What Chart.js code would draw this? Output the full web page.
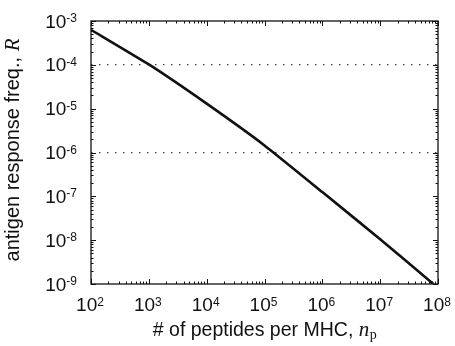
<!DOCTYPE html>
<html>
<head>
<meta charset="utf-8">
<script src="https://cdn.jsdelivr.net/npm/chart.js@4/dist/chart.umd.min.js"></script>
<style>
  body { margin: 0; background: #fff; }
  #wrap { width: 455px; height: 346px; }
</style>
</head>
<body>
<div id="wrap"><canvas id="chart" width="455" height="346"></canvas></div>
<script>
// values
const peptides = [1e2, 1e3, 1e4, 1e5, 1e6, 1e7, 8.3e7];
const responseFreq = [6.3e-4, 1.02e-4, 1.3e-5, 1.45e-6, 1.25e-7, 1.05e-8, 1.0e-9];

const xTickExps = [2, 3, 4, 5, 6, 7, 8];
const yTickExps = [-3, -4, -5, -6, -7, -8, -9];
const yGridLines = [1e-4, 1e-6];

const FONT = '"Liberation Sans", Arial, Helvetica, sans-serif';
const SERIF = '"Liberation Serif", "Times New Roman", serif';
const INK = "#111";

// draws "10" with a raised exponent
function drawPow(ctx, exp, left, baseline) {
  ctx.font = `19px ${FONT}`;
  ctx.fillText("10", left, baseline);
  const wb = ctx.measureText("10").width;
  ctx.font = `12px ${FONT}`;
  ctx.fillText(String(exp), left + wb, baseline - 5.5);
}

function powWidth(ctx, exp) {
  ctx.font = `19px ${FONT}`;
  const wb = ctx.measureText("10").width;
  ctx.font = `12px ${FONT}`;
  return wb + ctx.measureText(String(exp)).width;
}

const overlay = {
  id: "overlay",
  afterDraw(chart) {
    const { ctx, chartArea: a, scales } = chart;
    const x = scales.x, y = scales.y;
    ctx.save();
    ctx.strokeStyle = INK;
    ctx.fillStyle = INK;

    // frame
    ctx.lineWidth = 1.3;
    ctx.strokeRect(a.left, a.top, a.right - a.left, a.bottom - a.top);

    // inward ticks, major and minor, on all sides
    ctx.lineWidth = 1;
    ctx.beginPath();
    for (let e = xTickExps[0]; e <= xTickExps[xTickExps.length - 1]; e++) {
      for (let m = 1; m <= 9; m++) {
        const v = m * Math.pow(10, e);
        if (v > x.max * 1.0001) continue;
        const px = Math.round(x.getPixelForValue(v)) + 0.5;
        const len = m === 1 ? 5 : 2.5;
        ctx.moveTo(px, a.bottom); ctx.lineTo(px, a.bottom - len);
        ctx.moveTo(px, a.top); ctx.lineTo(px, a.top + len);
      }
    }
    for (let e = yTickExps[yTickExps.length - 1]; e <= yTickExps[0]; e++) {
      for (let m = 1; m <= 9; m++) {
        const v = m * Math.pow(10, e);
        if (v > y.max * 1.0001) continue;
        const py = Math.round(y.getPixelForValue(v)) + 0.5;
        const len = m === 1 ? 5 : 2.5;
        ctx.moveTo(a.left, py); ctx.lineTo(a.left + len, py);
        ctx.moveTo(a.right, py); ctx.lineTo(a.right - len, py);
      }
    }
    ctx.stroke();

    // tick labels
    ctx.textAlign = "left";
    ctx.textBaseline = "alphabetic";
    xTickExps.forEach((e) => {
      const px = x.getPixelForValue(Math.pow(10, e));
      const w = powWidth(ctx, e);
      drawPow(ctx, e, px - w / 2 - 1, 311);
    });
    yTickExps.forEach((e) => {
      const py = y.getPixelForValue(Math.pow(10, e));
      const w = powWidth(ctx, e);
      drawPow(ctx, e, 77 - w, py + 6.5);
    });

    // x title: "# of peptides per MHC, n_p"
    const xMain = "# of peptides per MHC, ";
    ctx.font = `19.5px ${FONT}`;
    const w1 = ctx.measureText(xMain).width;
    ctx.font = `italic 21px ${SERIF}`;
    const w2 = ctx.measureText("n").width;
    ctx.font = `14px ${SERIF}`;
    const w3 = ctx.measureText("p").width;
    let sx = (a.left + a.right) / 2 - (w1 + w2 + w3) / 2;
    ctx.font = `19.5px ${FONT}`;
    ctx.fillText(xMain, sx, 336);
    ctx.font = `italic 21px ${SERIF}`;
    ctx.fillText("n", sx + w1, 336);
    ctx.font = `14px ${SERIF}`;
    ctx.fillText("p", sx + w1 + w2 + 0.5, 339);

    // y title: "antigen response freq., R"
    const yMain = "antigen response freq., ";
    ctx.font = `20px ${FONT}`;
    const v1 = ctx.measureText(yMain).width;
    ctx.font = `italic 21px ${SERIF}`;
    const v2 = ctx.measureText("R").width;
    ctx.translate(19, 150 + (v1 + v2) / 2);
    ctx.rotate(-Math.PI / 2);
    ctx.font = `20px ${FONT}`;
    ctx.fillText(yMain, 0, 0);
    ctx.font = `italic 21px ${SERIF}`;
    ctx.fillText("R", v1, 0);

    ctx.restore();
  },
};

const isGridValue = (v) =>
  yGridLines.some((g) => Math.abs(Math.log10(v) - Math.log10(g)) < 1e-6);

new Chart(document.getElementById("chart").getContext("2d"), {
  type: "line",
  data: {
    datasets: [
      {
        data: peptides.map((n, i) => ({ x: n, y: responseFreq[i] })),
        borderColor: INK,
        borderWidth: 2.6,
        pointRadius: 0,
        tension: 0.15,
        fill: false,
      },
    ],
  },
  options: {
    responsive: false,
    animation: false,
    devicePixelRatio: 1,
    layout: { padding: { left: 91, right: 17, top: 21, bottom: 62 } },
    plugins: { legend: { display: false }, tooltip: { enabled: false } },
    scales: {
      x: {
        type: "logarithmic",
        min: 1e2,
        max: 1e8,
        ticks: { display: false },
        grid: { display: false, drawTicks: false },
        border: { display: false },
        afterFit: (s) => { s.height = 0; },
      },
      y: {
        type: "logarithmic",
        min: 1e-9,
        max: 1e-3,
        ticks: { display: false },
        grid: {
          drawTicks: false,
          lineWidth: 1.2,
          color: (c) => (c.tick && isGridValue(c.tick.value) ? "#444" : "rgba(0,0,0,0)"),
        },
        border: { display: false, dash: [1.5, 6.5] },
        afterFit: (s) => { s.width = 0; },
      },
    },
  },
  plugins: [overlay],
});
</script>
</body>
</html>
